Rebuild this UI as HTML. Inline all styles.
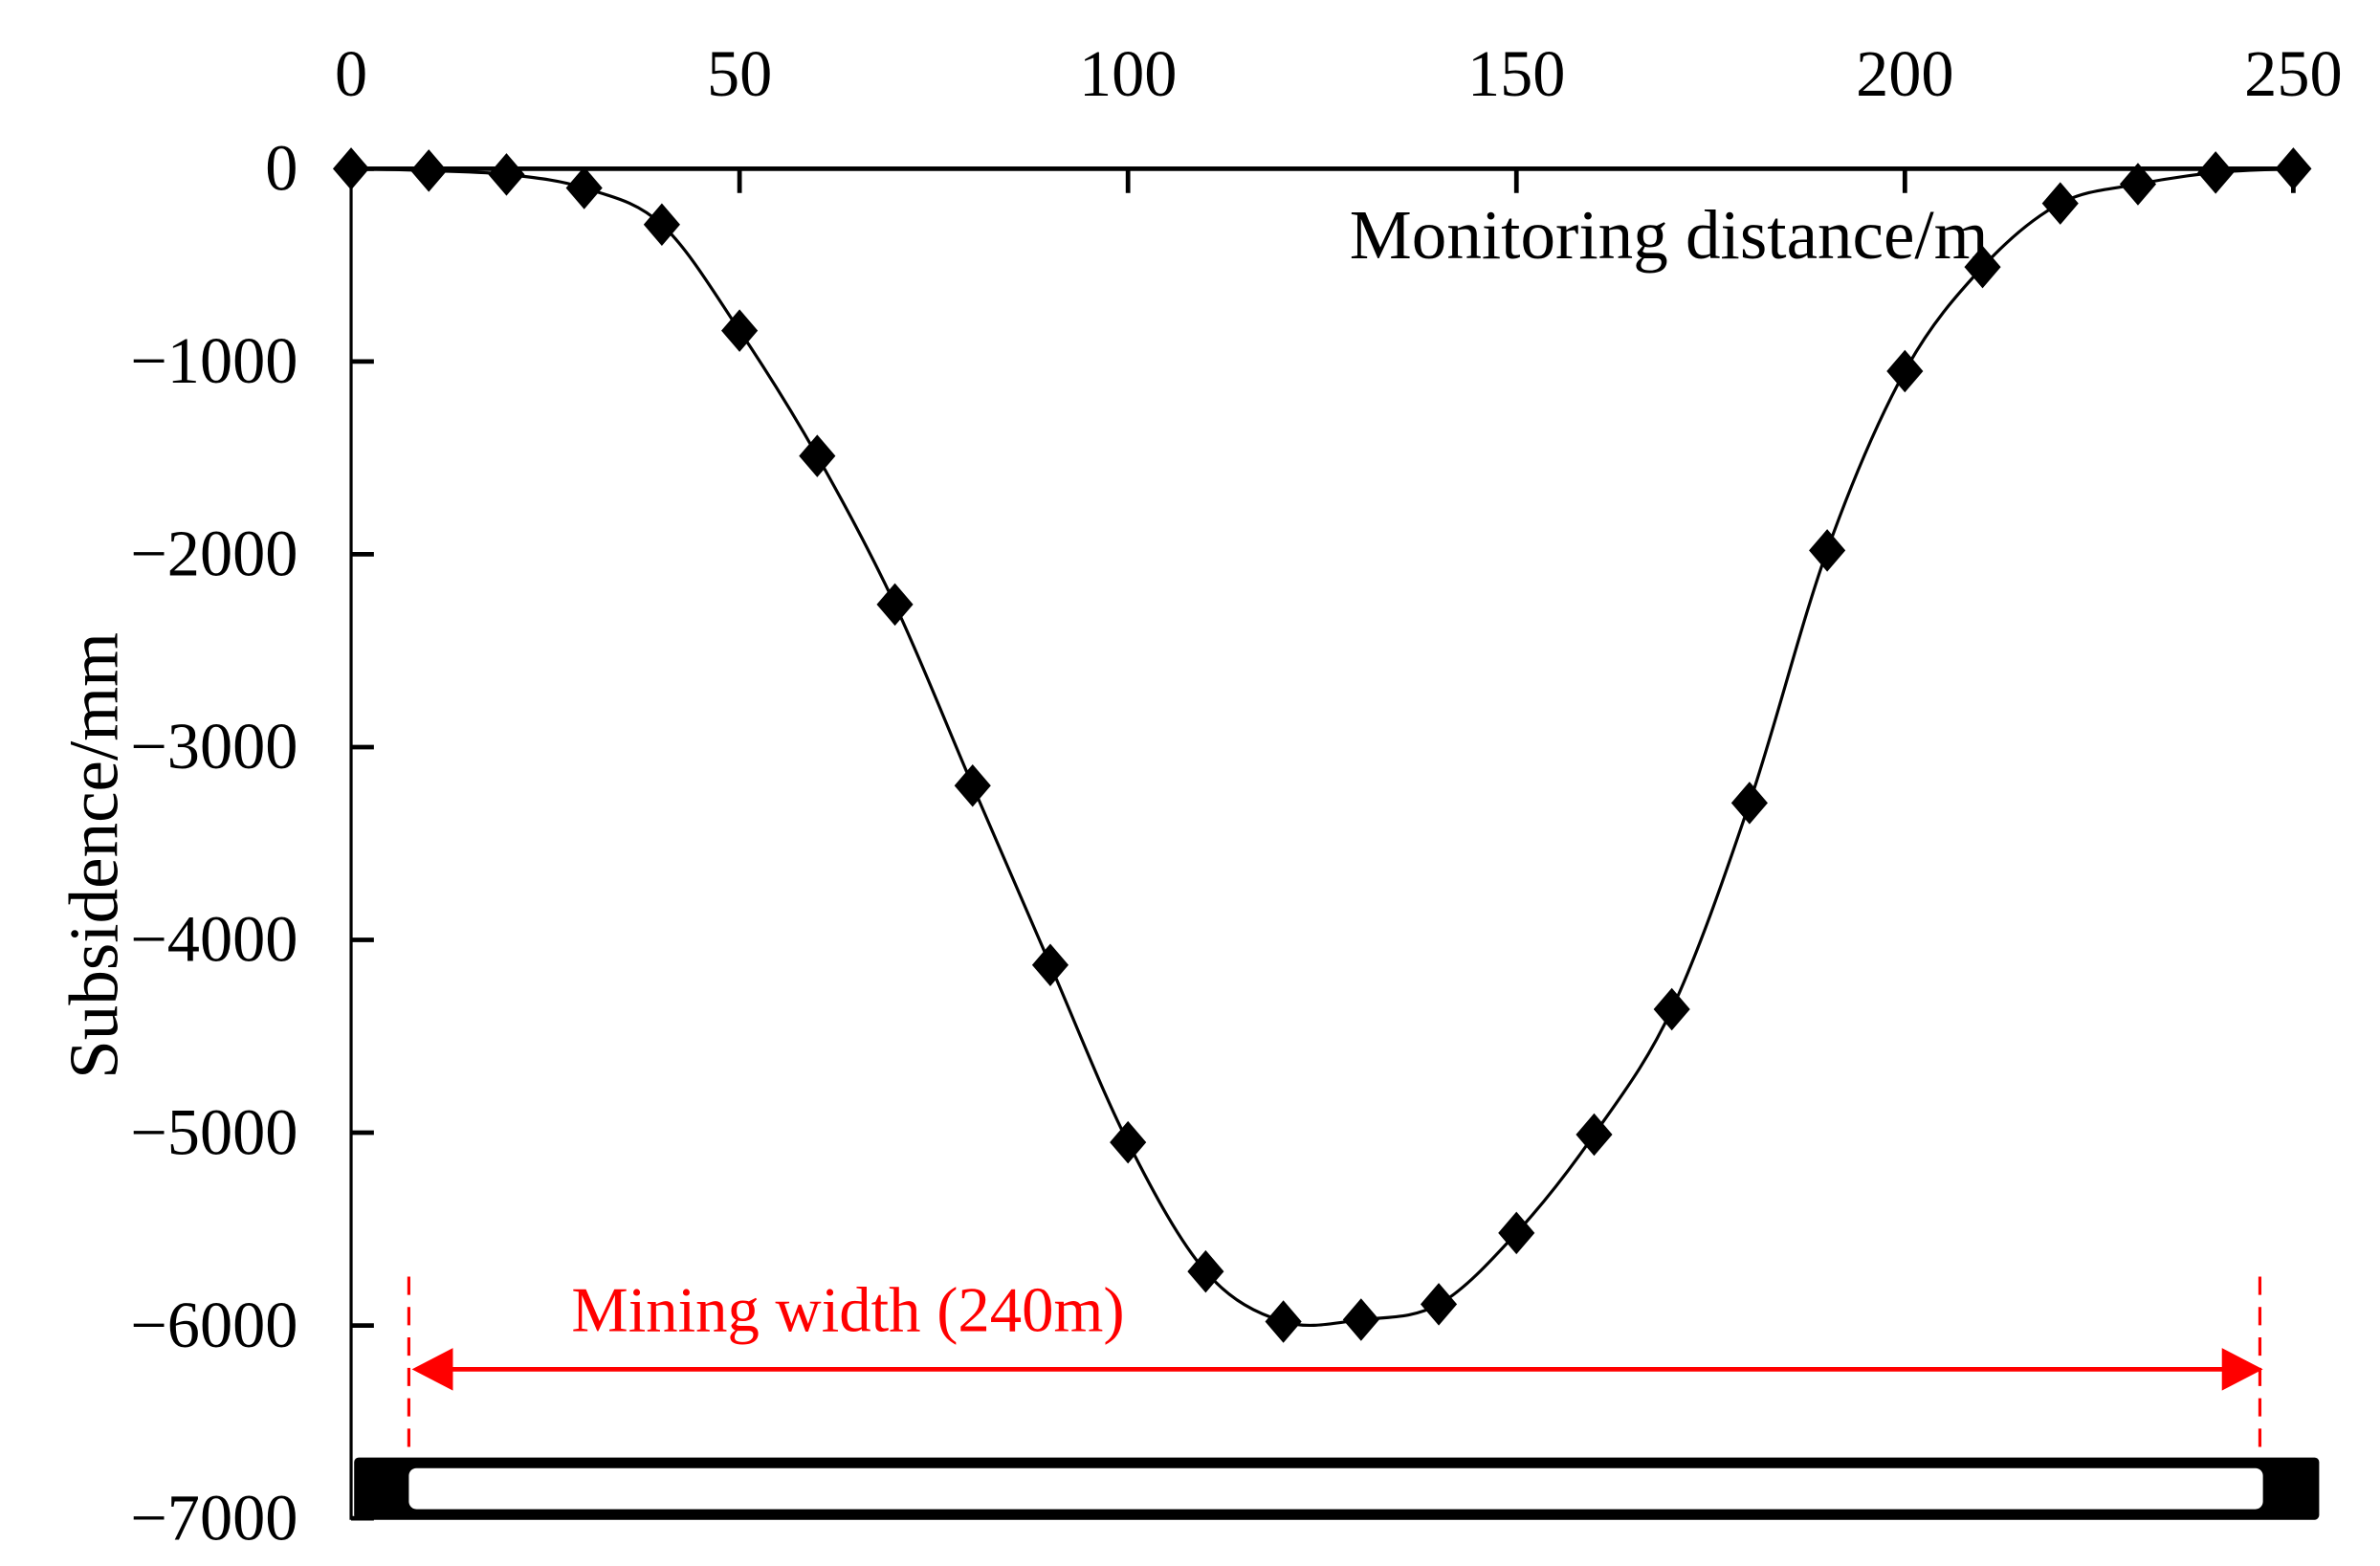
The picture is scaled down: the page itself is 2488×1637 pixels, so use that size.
<!DOCTYPE html>
<html><head><meta charset="utf-8"><style>
html,body{margin:0;padding:0;background:#fff;}
svg{display:block;font-family:"Liberation Serif",serif;}
</style></head><body>
<svg id="chart" width="2488" height="1637" viewBox="0 0 1566 1030.4" xmlns="http://www.w3.org/2000/svg">
<g id="axes"></g>
<g id="annot">
  <line x1="269" y1="840" x2="269" y2="962" stroke="#f00" stroke-width="2" stroke-dasharray="12,8"/>
  <line x1="1487" y1="840" x2="1487" y2="962" stroke="#f00" stroke-width="2" stroke-dasharray="12,8"/>
  <line x1="285" y1="901" x2="1472" y2="901" stroke="#f00" stroke-width="3"/>
  <polygon points="271,901 298,887 298,915" fill="#f00"/>
  <polygon points="1489,901 1462,887 1462,915" fill="#f00"/>
  <text x="376" y="876" font-size="42" fill="#f00">Mining width (240m)</text>
  <rect x="233" y="959" width="1293" height="41" rx="3" fill="#000"/>
  <rect x="269" y="966" width="1220" height="27" rx="5" fill="#fff"/>
</g>
<g id="plot"></g>
</svg>
<script>
const xValues=[0,10,20,30,40,50,60,70,80,90,100,110,120,130,140,150,160,170,180,190,200,210,220,230,240,250];
const subsidence=[0,-10,-30,-100,-290,-840,-1490,-2260,-3200,-4130,-5050,-5720,-5980,-5970,-5890,-5520,-5010,-4360,-3290,-1980,-1050,-510,-180,-80,-20,0];
const xTicks=[0,50,100,150,200,250];
const yTicks=[0,-1000,-2000,-3000,-4000,-5000,-6000,-7000];
const yTickLabels=["0","\u22121000","\u22122000","\u22123000","\u22124000","\u22125000","\u22126000","\u22127000"];

const NS="http://www.w3.org/2000/svg";
const X=v=>231+(v-0)*(1509-231)/250;
const Y=v=>111+(v/-7000)*(999-111);
function mk(tag,attrs,parent){const e=document.createElementNS(NS,tag);for(const k in attrs)e.setAttribute(k,attrs[k]);parent.appendChild(e);return e;}
const axes=document.getElementById('axes');
const plot=document.getElementById('plot');

let l=mk('line',{x1:231,y1:111,x2:1509,y2:111,stroke:'#000','stroke-width':3},axes);


l=mk('line',{x1:231,y1:110,x2:231,y2:1000,stroke:'#000','stroke-width':2},axes);



xTicks.forEach(t=>{
  if(t>0){const tk=mk('line',{x1:X(t),y1:111,x2:X(t),y2:127,stroke:'#000','stroke-width':3},axes);
  
  }
  const tx=mk('text',{x:X(t),y:63,'font-size':43,'text-anchor':'middle'},axes);
  tx.textContent=String(t);
  
  
});
yTicks.forEach((t,i)=>{
  const tk=mk('line',{x1:231,y1:Y(t),x2:246,y2:Y(t),stroke:'#000','stroke-width':3},axes);
  
  
  const tx=mk('text',{x:196,y:Y(t)+14,'font-size':43,'text-anchor':'end'},axes);
  tx.textContent=yTickLabels[i];
  
  
});
let tt=mk('text',{x:888,y:170,'font-size':46},axes);
tt.textContent='Monitoring distance/m';


tt=mk('text',{x:0,y:0,'font-size':46,'text-anchor':'middle',transform:'translate(77,563) rotate(-90)'},axes);
tt.textContent='Subsidence/mm';



const pts=xValues.map((x,i)=>[X(x),Y(subsidence[i])]);
let d='M'+pts[0][0]+','+pts[0][1];
for(let i=0;i<pts.length-1;i++){
  const p0=pts[Math.max(0,i-1)],p1=pts[i],p2=pts[i+1],p3=pts[Math.min(pts.length-1,i+2)];
  const c1=[p1[0]+(p2[0]-p0[0])/6,p1[1]+(p2[1]-p0[1])/6];
  const c2=[p2[0]-(p3[0]-p1[0])/6,p2[1]-(p3[1]-p1[1])/6];
  d+=' C'+c1[0]+','+c1[1]+' '+c2[0]+','+c2[1]+' '+p2[0]+','+p2[1];
}
const path=mk('path',{d:d,fill:'none',stroke:'#000','stroke-width':2},plot);


pts.forEach(p=>{
  const m=mk('polygon',{points:`${p[0]},${p[1]-14} ${p[0]+12},${p[1]} ${p[0]},${p[1]+14} ${p[0]-12},${p[1]}`,fill:'#000'},plot);
  
  
});
</script>
</body></html>
